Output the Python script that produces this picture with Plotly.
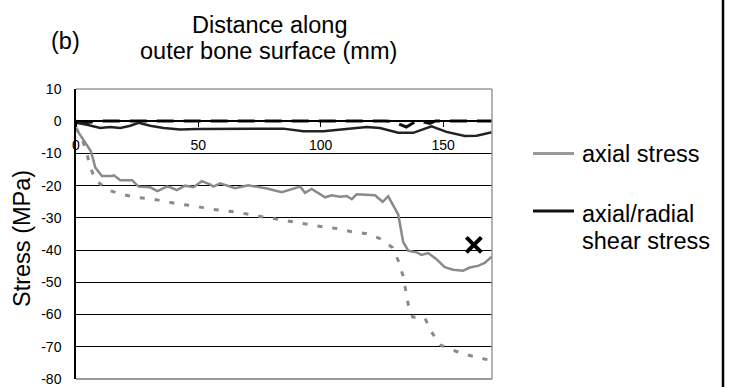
import plotly.graph_objects as go

# ---------------- data ----------------
axial_x = [0, 3.8, 6.1, 7.9, 10.6, 14.7, 15.5, 18.1, 22.9, 25.6, 30.3, 33.3, 37.1, 38.5, 41.2,
           44.6, 48, 51.4, 54.8, 56.2, 58.9, 65, 70.4, 78, 84.1, 91.6, 93.6, 96.3, 101.8, 104.5,
           107.9, 110.6, 112.7, 114.7, 122.2, 125.3, 127.6, 131.7, 132.6, 133.7, 135.8, 139.2,
           141.2, 143.9, 147.3, 150.7, 154.1, 158.2, 160.9, 164.3, 167, 170]
axial_y = [-2.3, -6.7, -9.3, -14.4, -17, -17, -16.8, -18.3, -18.3, -20.3, -20.5, -21.7, -20.3,
           -20.5, -21.4, -20, -20.5, -18.6, -19.6, -20.3, -19.3, -20.8, -19.9, -20.9, -22, -20.3,
           -22.2, -21, -23.6, -23, -23.4, -23.2, -24.2, -22.7, -23, -25, -23.3, -29, -33.5, -37.5,
           -40.2, -40.7, -41.5, -40.9, -42.8, -45.3, -46.1, -46.4, -45.4, -44.9, -44, -42]

axial2_x = [0, 2.5, 4.2, 5.7, 7.9, 13.3, 18.8, 24.9, 30.3, 36.4, 42.6, 48, 54.1, 60.2, 66.4,
            71.8, 78, 83.4, 89.5, 94.9, 101.1, 106.5, 112.7, 118.7, 124.2, 129.3, 131.7, 133.7,
            134.8, 135.8, 137.6, 142.6, 145.3, 148.7, 154.1, 159.8, 166.4, 170]
axial2_y = [-2, -5.5, -9.2, -13.9, -18.3, -21.4, -22.7, -23.7, -24, -25, -25.8, -26.2, -27.2,
            -27.7, -28.3, -29.1, -29.9, -30.6, -31.4, -32.2, -32.8, -33.3, -34.3, -34.9, -36.4,
            -39.2, -43.3, -48.1, -52.6, -57, -60.8, -61.1, -65.4, -69.4, -71.1, -72.5, -73.7, -74.3]

shear_x = [0, 4.5, 9.9, 14, 18.1, 22.2, 25.6, 30.3, 35.8, 42.6, 49.4, 58.9, 72.5, 84.7, 92.9,
           101.1, 110.6, 118.8, 124.2, 131.7, 137.8, 145.3, 151.4, 158.9, 163.7, 170]
shear_y = [-0.5, -1.1, -2.1, -1.8, -2.1, -1.4, -0.5, -1.4, -2.1, -2.6, -2.4, -2.3, -2.3, -2.3,
           -3.1, -3.1, -2.4, -1.8, -2.1, -3.6, -3.6, -1.6, -3.3, -4.6, -4.5, -3.4]

shear2_x = [0, 4, 8, 12, 126, 129, 135, 137, 139.4, 144.6, 147, 170]
shear2_y = [0, -0.5, 0, 0.1, 0.1, 0, -1.8, -1, 0.2, -0.7, 0.1, 0.1]

mark_x = [162.6]
mark_y = [-38.4]

x_ticks = [0, 50, 100, 150]
y_ticks = [10, 0, -10, -20, -30, -40, -50, -60, -70, -80]

# ---------------- layout geometry ----------------
W, H = 729, 387
L, R, T, B = 76, 237, 89, 8
PW, PH = W - L - R, H - T - B


def px(x):
    return (x - L) / PW


def py(y):
    return (H - B - y) / PH


FONT = "Arial, Liberation Sans, sans-serif"
GRAY = "#8a8a8a"

fig = go.Figure()
fig.add_trace(go.Scatter(x=axial2_x, y=axial2_y, mode="lines",
                         line=dict(color=GRAY, width=3, dash="5px,10px")))
fig.add_trace(go.Scatter(x=axial_x, y=axial_y, mode="lines",
                         line=dict(color=GRAY, width=2.5)))
fig.add_trace(go.Scatter(x=shear2_x, y=shear2_y, mode="lines",
                         line=dict(color="#111111", width=3, dash="17px,10px")))
fig.add_trace(go.Scatter(x=shear_x, y=shear_y, mode="lines",
                         line=dict(color="#222222", width=2.5)))
fig.add_trace(go.Scatter(x=mark_x, y=mark_y, mode="markers",
                         marker=dict(symbol="x-thin", size=15,
                                     line=dict(color="black", width=4))))

fig.update_layout(
    width=W, height=H,
    margin=dict(l=L, r=R, t=T, b=B, autoexpand=False),
    paper_bgcolor="white", plot_bgcolor="white",
    showlegend=False,
    font=dict(family=FONT, color="black"),
    xaxis=dict(range=[0, 170], anchor="free", position=80 / 90, automargin=False,
               showline=True, linecolor="black", linewidth=1.5,
               ticks="outside", ticklen=5, tickcolor="black", tickwidth=1,
               tickvals=x_ticks, ticktext=[str(v) for v in x_ticks],
               tickfont=dict(size=14, family=FONT, color="black"),
               ticklabelstandoff=6,
               showgrid=False, zeroline=False),
    yaxis=dict(range=[-80, 10], tickvals=y_ticks, ticktext=[str(v) for v in y_ticks],
               automargin=False,
               showgrid=True, gridcolor="black", gridwidth=1,
               showline=True, linecolor="black", linewidth=1.5,
               ticks="", ticklabelstandoff=10, ticklabeloverflow="allow",
               tickfont=dict(size=14, family=FONT, color="black"),
               zeroline=False),
)

shapes = [
    # gray frame (top, right, bottom)
    dict(type="line", xref="paper", yref="paper", x0=0, x1=1, y0=1, y1=1,
         line=dict(color="#999999", width=1.5), layer="above"),
    dict(type="line", xref="paper", yref="paper", x0=1, x1=1, y0=0, y1=1,
         line=dict(color="#999999", width=1.5), layer="above"),
    dict(type="line", xref="paper", yref="paper", x0=0, x1=1, y0=0, y1=0,
         line=dict(color="#999999", width=2), layer="above"),
    # legend lines
    dict(type="line", xref="paper", yref="paper", x0=px(533), x1=px(574), y0=py(153.5), y1=py(153.5),
         line=dict(color="#999999", width=3)),
    dict(type="line", xref="paper", yref="paper", x0=px(533), x1=px(574), y0=py(211), y1=py(211),
         line=dict(color="#111111", width=3)),
    # right border line
    dict(type="line", xref="paper", yref="paper", x0=px(723), x1=px(723), y0=py(0), y1=py(387),
         line=dict(color="black", width=2.5)),
]
fig.update_layout(shapes=shapes)

BIG = 23.5


def ann(text, x, y, xanchor="center", angle=0):
    return dict(text=text, x=px(x), y=py(y), xref="paper", yref="paper",
                xanchor=xanchor, yanchor="middle", showarrow=False, textangle=angle,
                font=dict(size=BIG, family=FONT, color="black"))


fig.update_layout(annotations=[
    ann("Distance along", 269, 25),
    ann("outer bone surface (mm)", 268, 51),
    ann("(b)", 65, 41),
    ann("Stress (MPa)", 22, 238, angle=-90),
    ann("axial stress", 580, 154, xanchor="left"),
    ann("axial/radial", 580, 214, xanchor="left"),
    ann("shear stress", 580, 240.5, xanchor="left"),
])

fig.write_html("out.html")
